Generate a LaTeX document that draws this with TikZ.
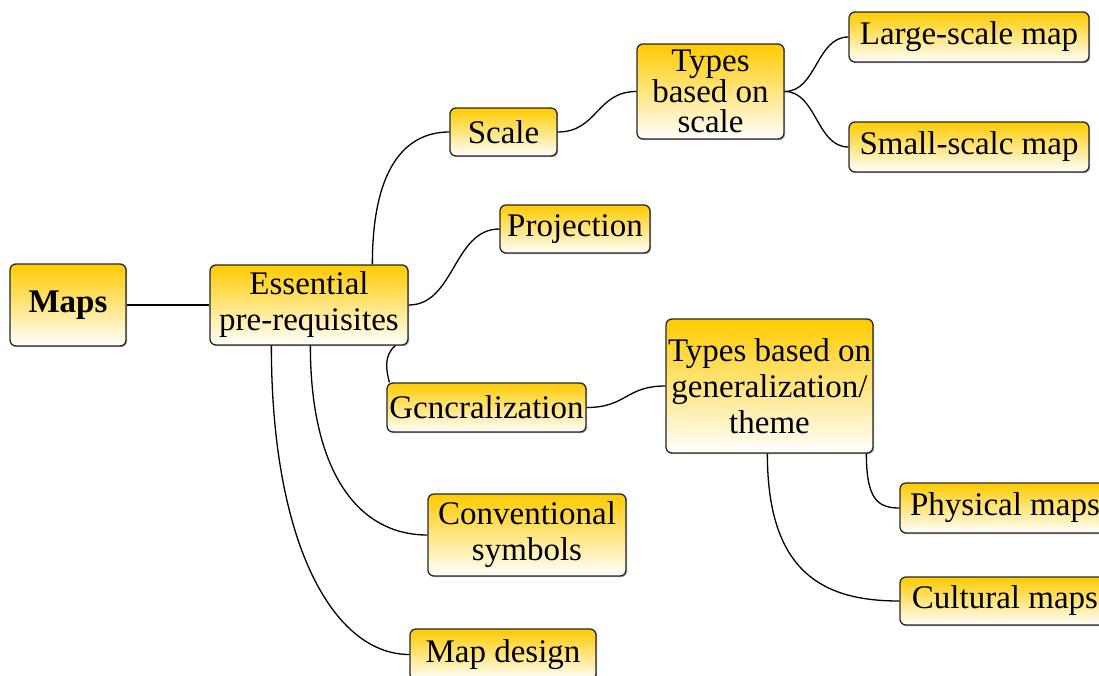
\documentclass[tikz,border=0pt]{standalone}
\usepackage{fontspec}
\setmainfont{Liberation Serif}
\usetikzlibrary{shadows}
\definecolor{gold}{RGB}{255,203,0}
\begin{document}
\begin{tikzpicture}[x=1pt,y=-1pt,
  box/.style={draw=black!85, line width=1.3pt, rounded corners=6pt,
    top color=gold, bottom color=white, inner sep=0pt, align=center,
    font=\fontsize{33}{36}\selectfont,
    drop shadow={shadow xshift=1.2pt,shadow yshift=-1.2pt,opacity=0.3,fill=black}},
  link/.style={line width=1.3pt, black}]
\useasboundingbox (0,0) rectangle (1099,675);
\clip (0,0) rectangle (1099,675);
% nodes
\node[box, minimum width=116, minimum height=82, font=\bfseries\fontsize{33}{36}\selectfont] (maps) at (68,305) {Maps};
\node[box, minimum width=198, minimum height=80] (ess) at (309,305) {Essential\\pre-requisites};
\node[box, minimum width=107, minimum height=48] (scale) at (503.5,132) {Scale};
\node[box, minimum width=147, minimum height=95, font=\fontsize{33}{30}\selectfont] (tscale) at (710.5,91.5) {Types\\based on\\scale};
\node[box, minimum width=240, minimum height=50] (large) at (969,37) {Large-scale map};
\node[box, minimum width=240, minimum height=50] (small) at (969,147) {Small-scalc map};
\node[box, minimum width=150, minimum height=48] (proj) at (575,229) {Projection};
\node[box, minimum width=199, minimum height=49] (gen) at (486.5,407.5) {Gcncralization};
\node[box, minimum width=207, minimum height=134] (tgen) at (769.5,386) {Types based on\\generalization/\\theme};
\node[box, minimum width=210, minimum height=50] (phys) at (1005,508) {Physical maps};
\node[box, minimum width=210, minimum height=48] (cult) at (1005,601) {Cultural maps};
\node[box, minimum width=198, minimum height=82] (conv) at (527,535) {Conventional\\symbols};
\node[box, minimum width=186, minimum height=51] (design) at (503,654.5) {Map design};
% connectors
\draw[link] (maps.east) -- (ess.west);
\draw[link] ([xshift=163pt]ess.north west) .. controls +(0,-95) and +(-45,0) .. (scale.west);
\draw[link] (ess.east) .. controls +(46,0) and +(-46,0) .. (proj.west);
\draw[link] ([xshift=186pt]ess.south west) .. controls +(-12,10) and +(-3,-12) .. ([xshift=3pt]gen.north west);
\draw[link] ([xshift=101pt]ess.south west) .. controls +(0,125) and +(-70,0) .. (conv.west);
\draw[link] ([xshift=62pt]ess.south west) .. controls +(0,200) and +(-75,0) .. (design.west);
\draw[link] (scale.east) .. controls +(40,0) and +(-40,0) .. (tscale.west);
\draw[link] (tscale.east) .. controls +(32,0) and +(-32,0) .. (large.west);
\draw[link] (tscale.east) .. controls +(32,0) and +(-32,0) .. (small.west);
\draw[link] (gen.east) .. controls +(40,0) and +(-40,0) .. (tgen.west);
\draw[link] ([xshift=201pt]tgen.south west) .. controls +(0,45) and +(-22,0) .. (phys.west);
\draw[link] ([xshift=102pt]tgen.south west) .. controls +(0,120) and +(-75,0) .. (cult.west);
\end{tikzpicture}
\end{document}
